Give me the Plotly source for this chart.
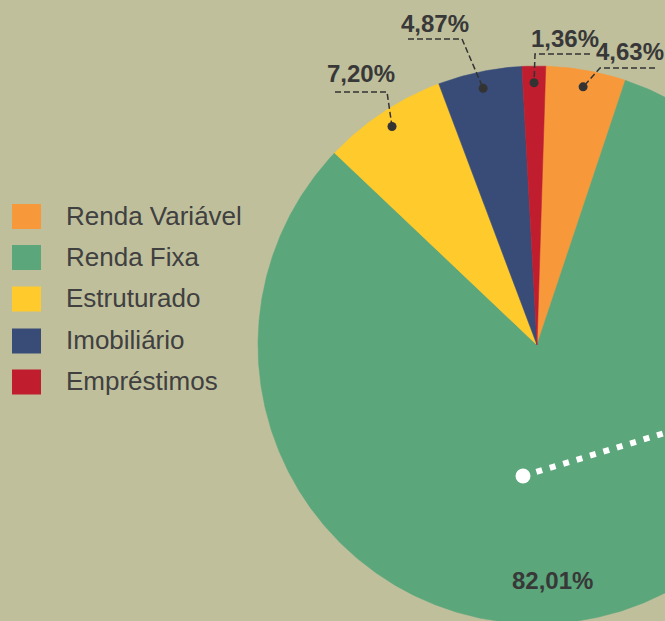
import numpy as np
import plotly.graph_objects as go

# ---- data ----
categories = ["Renda Variável", "Renda Fixa", "Estruturado", "Imobiliário", "Empréstimos"]
values = [4.63, 82.01, 7.20, 4.87, 1.36]
value_labels = ["4,63%", "82,01%", "7,20%", "4,87%", "1,36%"]
colors = ["#F7993A", "#5BA67B", "#FFCA2B", "#394C78", "#C01D2F"]

# ---- layout constants (pixels in a 665x621 canvas) ----
W, H = 665, 621
CX, CY, R = 537, 345, 279
START_DEG = 1.8  # clockwise from 12 o'clock
BG = "#BFBF9C"
TXT = "#383838"
FONT = "Liberation Sans, Arial"


def px(x):
    return (x - CX) / R


def py(y):
    return (CY - y) / R


fig = go.Figure()

total = sum(values)
angles = []
a = START_DEG
for v in values:
    span = v / total * 360.0
    angles.append((a, a + span))
    a += span

for cat, v, col, (a0, a1) in zip(categories, values, colors, angles):
    th = np.radians(np.linspace(a0, a1, max(8, int((a1 - a0) * 2))))
    xs = np.concatenate([[0], np.sin(th), [0]])
    ys = np.concatenate([[0], np.cos(th), [0]])
    fig.add_trace(go.Scatter(x=xs, y=ys, fill="toself", fillcolor=col, mode="lines",
                             line=dict(color=col, width=0.5), name=cat,
                             hoverinfo="text", text=f"{cat}: {v:.2f}%".replace(".", ","),
                             showlegend=False))

# ---- outside labels with leader lines ----
label_cfg = {
    0: dict(text_xy=(630, 51), hx=(655, 600), hy=68),
    2: dict(text_xy=(361, 73), hx=(335, 387), hy=92),
    3: dict(text_xy=(435, 23), hx=(408, 462), hy=39),
    4: dict(text_xy=(565, 38), hx=(590, 535), hy=54),
}
dot_x, dot_y = [], []
for i, cfg in label_cfg.items():
    a0, a1 = angles[i]
    mid = np.radians((a0 + a1) / 2)
    dr = 0.94
    dx, dy = dr * np.sin(mid), dr * np.cos(mid)
    dot_x.append(dx)
    dot_y.append(dy)
    hx0, hx1 = cfg["hx"]
    fig.add_trace(go.Scatter(x=[px(hx0), px(hx1), dx], y=[py(cfg["hy"]), py(cfg["hy"]), dy],
                             mode="lines", line=dict(color="#333333", width=1.5, dash="6px,3px"),
                             hoverinfo="skip", showlegend=False))
    tx, ty = cfg["text_xy"]
    fig.add_annotation(x=px(tx), y=py(ty), text=f"<b>{value_labels[i]}</b>", showarrow=False,
                       font=dict(family=FONT, size=24, color=TXT), xanchor="center", yanchor="middle")

fig.add_trace(go.Scatter(x=dot_x, y=dot_y, mode="markers",
                         marker=dict(color="#333333", size=9), hoverinfo="skip", showlegend=False))

# Renda Fixa pointer (white dotted) and label
fig.add_trace(go.Scatter(x=[px(523), px(523) + 1.2], y=[py(476), py(476) + 1.2 * 43 / 142],
                         mode="lines", line=dict(color="white", width=6, dash="6px,8px"),
                         hoverinfo="skip", showlegend=False))
fig.add_trace(go.Scatter(x=[px(523)], y=[py(476)], mode="markers",
                         marker=dict(color="white", size=15), hoverinfo="skip", showlegend=False))
fig.add_annotation(x=px(552), y=py(580), text=f"<b>{value_labels[1]}</b>", showarrow=False,
                   font=dict(family=FONT, size=24, color=TXT), xanchor="center", yanchor="middle")

# ---- legend (manual) ----
leg_y = [216.5, 257.5, 299, 341, 382]
for cat, col, yy in zip(categories, colors, leg_y):
    fig.add_shape(type="rect", xref="paper", yref="paper",
                  x0=12 / W, x1=41 / W, y0=1 - (yy - 12.5) / H, y1=1 - (yy + 12.5) / H,
                  fillcolor=col, line=dict(width=0))
    fig.add_annotation(xref="paper", yref="paper", x=64 / W, y=1 - (yy - 1) / H, text=cat,
                       showarrow=False, xanchor="left", yanchor="middle",
                       font=dict(family=FONT, size=26, color="#404040"))

fig.update_layout(
    width=W, height=H, margin=dict(l=0, r=0, t=0, b=0),
    paper_bgcolor=BG, plot_bgcolor=BG, showlegend=False,
    xaxis=dict(range=[px(0), px(W)], visible=False, fixedrange=True),
    yaxis=dict(range=[py(H), py(0)], visible=False, fixedrange=True),
)
fig.write_html("out.html", config={"displayModeBar": False},
               post_script="document.body.style.margin='0';document.body.style.overflow='hidden';"
                           "document.body.style.background='" + BG + "';")
